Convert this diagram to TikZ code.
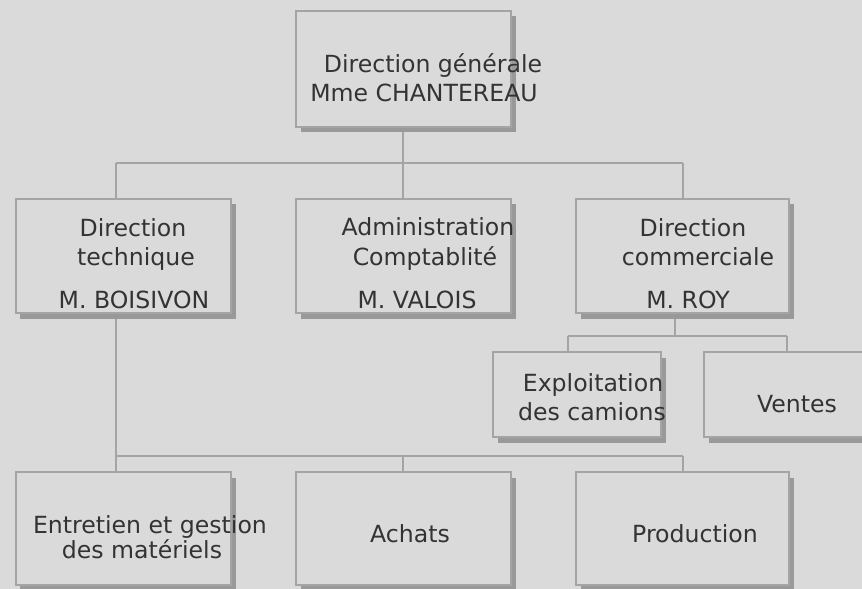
\documentclass[tikz,border=0pt]{standalone}
\usepackage{fontspec}
\setmainfont{DejaVu Sans}
\usetikzlibrary{shadows}
\definecolor{bg}{HTML}{DADADA}
\definecolor{edge}{HTML}{A4A4A4}
\definecolor{shade}{HTML}{999999}
\definecolor{ink}{HTML}{333333}
\tikzset{
  orgbox/.style={draw=edge, line width=1.3bp, fill=bg, inner sep=0pt,
    drop shadow={shadow xshift=4.5bp, shadow yshift=-5.5bp, fill=shade, opacity=1}},
  conn/.style={draw=edge, line width=1.3bp},
  txt/.style={anchor=base, inner sep=0pt, text=ink, font=\fontsize{23.6bp}{28bp}\selectfont}
}
\begin{document}
\begin{tikzpicture}[x=1bp, y=-1bp]
\useasboundingbox (0,0) rectangle (862,589);
\fill[bg] (0,0) rectangle (862,589);
\clip (0,0) rectangle (862,589);
% connectors
\coordinate (a0) at (403,163);
\coordinate (aL) at (116,163);
\coordinate (aR) at (683,163);
\coordinate (b0) at (116,313);
\coordinate (bJ) at (116,456);
\coordinate (bR) at (683,456);
\coordinate (bM) at (403,456);
\coordinate (c0) at (675,313);
\coordinate (cJ) at (675,336);
\coordinate (cL) at (568,336);
\coordinate (cR) at (787,336);
\draw[conn] (403,127) -- (a0);
\draw[conn] (aL) -- (aR);
\draw[conn] (aL) -- (116,199);
\draw[conn] (a0) -- (403,199);
\draw[conn] (aR) -- (683,199);
\draw[conn] (b0) -- (bJ) -- (bR);
\draw[conn] (bJ) -- (116,472);
\draw[conn] (bM) -- (403,472);
\draw[conn] (bR) -- (683,472);
\draw[conn] (c0) -- (cJ);
\draw[conn] (cL) -- (cR);
\draw[conn] (cL) -- (568,352);
\draw[conn] (cR) -- (787,352);
% boxes
\node[orgbox, minimum width=215bp, minimum height=116bp] (top) at (403.5,69) {};
\node[orgbox, minimum width=215bp, minimum height=114bp] (dt) at (123.5,256) {};
\node[orgbox, minimum width=215bp, minimum height=114bp] (adm) at (403.5,256) {};
\node[orgbox, minimum width=213bp, minimum height=114bp] (dc) at (682.5,256) {};
\node[orgbox, minimum width=168bp, minimum height=85bp] (expl) at (577,394.5) {};
\node[orgbox, minimum width=176bp, minimum height=85bp] (ven) at (792,394.5) {};
\node[orgbox, minimum width=215bp, minimum height=113bp] (ent) at (123.5,528.5) {};
\node[orgbox, minimum width=215bp, minimum height=113bp] (ach) at (403.5,528.5) {};
\node[orgbox, minimum width=213bp, minimum height=113bp] (prod) at (682.5,528.5) {};
% texts
\node[txt] (t1) at (433,73) {Direction générale};
\node[txt] (t2) at (424,102) {Mme CHANTEREAU};
\node[txt] (t3) at (133,237) {Direction};
\node[txt] (t4) at (136,265) {technique};
\node[txt] (t5) at (134,308) {M. BOISIVON};
\node[txt] (t6) at (428,236) {Administration};
\node[txt] (t7) at (425,265) {Comptablité};
\node[txt] (t8) at (417,308) {M. VALOIS};
\node[txt] (t9) at (693,237) {Direction};
\node[txt] (t10) at (698,265) {commerciale};
\node[txt] (t11) at (688,308) {M. ROY};
\node[txt] (t12) at (593,391) {Exploitation};
\node[txt] (t13) at (592,420) {des camions};
\node[txt] (t14) at (797,412) {Ventes};
\node[txt] (t15) at (150,533) {Entretien et gestion};
\node[txt] (t16) at (142,558) {des matériels};
\node[txt] (t17) at (410,542) {Achats};
\node[txt] (t18) at (695,542) {Production};
\end{tikzpicture}
\end{document}
